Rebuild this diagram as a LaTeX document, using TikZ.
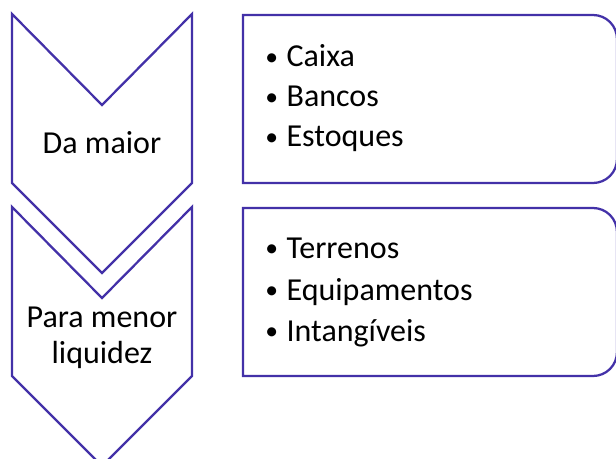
\documentclass[tikz,border=0pt]{standalone}
\usepackage{fontspec}
\setmainfont{Carlito}
\usepackage{tikz}
\usetikzlibrary{positioning}
\definecolor{xpurple}{HTML}{4331A8}
\tikzset{
  chevron/.style = {draw=xpurple, line width=1.7pt, fill=white},
  listbox/.style = {draw=xpurple, line width=1.7pt, fill=white},
  label/.style = {inner sep=0pt, font=\fontsize{24}{26.5}\selectfont, align=center, anchor=base},
  item/.style = {inner sep=0pt, font=\fontsize{24}{29}\selectfont, anchor=base west},
}
\newcommand{\itm}[1]{\makebox[16pt][l]{\raisebox{1.2pt}{\scalebox{0.8}{\textbullet}}}#1}

\begin{document}
\begin{tikzpicture}[x=0.75pt, y=-0.75pt]
	\useasboundingbox (0,0) rectangle (616,459);
	\draw[chevron] (12,207) -- (102,298) -- (192,207) -- (192,376) -- (102,466) -- (12,376) -- cycle;
	\draw[chevron] (12,14) -- (102,105) -- (192,14) -- (192,183) -- (102,273) -- (12,183) -- cycle;
	\draw[listbox] (243,15) [rounded corners=18pt] -- (617,15) -- (617,183) [sharp corners] -- (243,183) -- cycle;
	\draw[listbox] (243,208) [rounded corners=18pt] -- (617,208) -- (617,376) [sharp corners] -- (243,376) -- cycle;
	\node[label] (maior) at (102,154) {Da maior};
	\node[label] (menor) at (102,363) {Para menor\\liquidez};
	% lista de cima
	\node[item] (caixa) at (265,67) {\itm{Caixa}};
	\node[item] (bancos) at (265,107) {\itm{Bancos}};
	\node[item] (estoques) at (265,147) {\itm{Estoques}};
	% lista de baixo
	\node[item] (terrenos) at (265,258) {\itm{Terrenos}};
	\node[item] (equip) at (265,300) {\itm{Equipamentos}};
	\node[item] (intang) at (265,341) {\itm{Intangíveis}};
\end{tikzpicture}
\end{document}
